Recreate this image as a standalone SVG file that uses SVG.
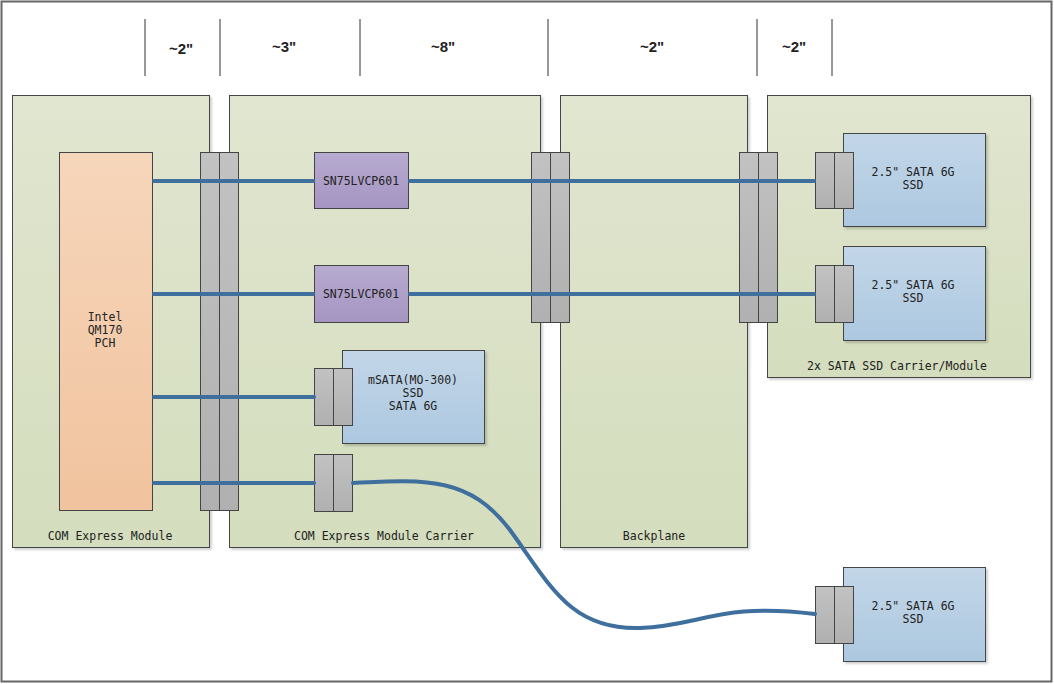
<svg xmlns="http://www.w3.org/2000/svg" width="1054" height="684" viewBox="0 0 1054 684">
<defs>
<linearGradient id="gPanel" x1="0" y1="0" x2="0" y2="1"><stop offset="0" stop-color="#e1e6d0"/><stop offset="1" stop-color="#d4ddbd"/></linearGradient>
<linearGradient id="gPch" x1="0" y1="0" x2="0" y2="1"><stop offset="0" stop-color="#f6d6bb"/><stop offset="1" stop-color="#f1c39e"/></linearGradient>
<linearGradient id="gChip" x1="0" y1="0" x2="0" y2="1"><stop offset="0" stop-color="#b8abd0"/><stop offset="1" stop-color="#a495c2"/></linearGradient>
<linearGradient id="gSsd" x1="0" y1="0" x2="0" y2="1"><stop offset="0" stop-color="#c3d6e8"/><stop offset="1" stop-color="#acc8e0"/></linearGradient>
<linearGradient id="gConn" x1="0" y1="0" x2="0" y2="1"><stop offset="0" stop-color="#c2c2c2"/><stop offset="1" stop-color="#b0b0b0"/></linearGradient>
<filter id="sh" x="-5%" y="-5%" width="115%" height="115%"><feDropShadow dx="2" dy="2" stdDeviation="1" flood-color="#000" flood-opacity="0.18"/></filter>
</defs>
<style>
.panel{fill:url(#gPanel);stroke:#444;stroke-width:1;filter:url(#sh)}
.pch{fill:url(#gPch);stroke:#444;stroke-width:1}
.chip{fill:url(#gChip);stroke:#444;stroke-width:1}
.ssd{fill:url(#gSsd);stroke:#444;stroke-width:1;filter:url(#sh)}
.conn{fill:url(#gConn);stroke:#444;stroke-width:1}
.t{font-family:"DejaVu Sans Mono","Liberation Mono",monospace;font-size:11.5px;fill:#222;text-anchor:middle}
.dim{font-family:"Liberation Sans",Arial,sans-serif;font-size:15px;font-weight:bold;fill:#222;text-anchor:middle}
.div{stroke:#333;stroke-width:1}
.wire{stroke:#3f6f9c;stroke-width:4;fill:none;stroke-linecap:round}
</style>
<rect x="0" y="0" width="1054" height="684" fill="#fff"/>
<rect x="1.5" y="1.5" width="1050" height="680" fill="none" stroke="#666" stroke-width="2"/>
<g id="dimensions">
<line class="div" x1="145" y1="19" x2="145" y2="76"/>
<line class="div" x1="220" y1="19" x2="220" y2="76"/>
<line class="div" x1="360" y1="19" x2="360" y2="76"/>
<line class="div" x1="548" y1="19" x2="548" y2="76"/>
<line class="div" x1="757" y1="19" x2="757" y2="76"/>
<line class="div" x1="832" y1="19" x2="832" y2="76"/>
<text class="dim" x="181" y="54">~2"</text>
<text class="dim" x="284" y="52">~3"</text>
<text class="dim" x="443" y="52">~8"</text>
<text class="dim" x="652" y="52">~2"</text>
<text class="dim" x="794" y="52">~2"</text>
</g>
<g id="com-express-module">
<rect class="panel" x="12.5" y="95.5" width="197" height="452"/>
<text class="t" x="110" y="540">COM Express Module</text>
</g>
<g id="carrier">
<rect class="panel" x="229.5" y="95.5" width="311" height="452"/>
<text class="t" x="384" y="540">COM Express Module Carrier</text>
</g>
<g id="backplane">
<rect class="panel" x="560.5" y="95.5" width="187" height="452"/>
<text class="t" x="654" y="540">Backplane</text>
</g>
<g id="ssd-carrier">
<rect class="panel" x="767.5" y="95.5" width="263" height="282"/>
<text class="t" x="897" y="370">2x SATA SSD Carrier/Module</text>
</g>
<g id="pch">
<rect class="pch" x="59.5" y="152.5" width="93" height="358"/>
<text class="t" x="105" y="321">Intel</text>
<text class="t" x="105" y="334">QM170</text>
<text class="t" x="105" y="347">PCH</text>
</g>
<g id="ssd1">
<rect class="ssd" x="843.5" y="133.5" width="142" height="93"/>
<text class="t" x="913" y="176">2.5" SATA 6G</text>
<text class="t" x="913" y="189">SSD</text>
</g>
<g id="ssd2">
<rect class="ssd" x="843.5" y="246.5" width="142" height="94"/>
<text class="t" x="913" y="289">2.5" SATA 6G</text>
<text class="t" x="913" y="302">SSD</text>
</g>
<g id="msata">
<rect class="ssd" x="342.5" y="350.5" width="142" height="93"/>
<text class="t" x="413" y="384">mSATA(MO-300)</text>
<text class="t" x="413" y="397">SSD</text>
<text class="t" x="413" y="410">SATA 6G</text>
</g>
<g id="ssd3">
<rect class="ssd" x="843.5" y="567.5" width="142" height="94"/>
<text class="t" x="913" y="610">2.5" SATA 6G</text>
<text class="t" x="913" y="623">SSD</text>
</g>
<g id="com-connector">
<rect class="conn" x="200.5" y="152.5" width="19" height="358"/>
<rect class="conn" x="219.5" y="152.5" width="19" height="358"/>
</g>
<g id="sn75-1">
<rect class="chip" x="314.5" y="152.5" width="94" height="56"/>
<text class="t" x="361" y="185">SN75LVCP601</text>
</g>
<g id="sn75-2">
<rect class="chip" x="314.5" y="265.5" width="94" height="57"/>
<text class="t" x="361" y="298">SN75LVCP601</text>
</g>
<g id="bp-connector-1">
<rect class="conn" x="531.5" y="152.5" width="19" height="170"/>
<rect class="conn" x="550.5" y="152.5" width="19" height="170"/>
</g>
<g id="bp-connector-2">
<rect class="conn" x="739.5" y="152.5" width="19" height="170"/>
<rect class="conn" x="758.5" y="152.5" width="19" height="170"/>
</g>
<g id="ssd1-connector">
<rect class="conn" x="815.5" y="152.5" width="19" height="56"/>
<rect class="conn" x="834.5" y="152.5" width="19" height="56"/>
</g>
<g id="ssd2-connector">
<rect class="conn" x="815.5" y="265.5" width="19" height="57"/>
<rect class="conn" x="834.5" y="265.5" width="19" height="57"/>
</g>
<g id="msata-connector">
<rect class="conn" x="314.5" y="368.5" width="19" height="57"/>
<rect class="conn" x="333.5" y="368.5" width="19" height="57"/>
</g>
<g id="cable-connector">
<rect class="conn" x="314.5" y="454.5" width="19" height="57"/>
<rect class="conn" x="333.5" y="454.5" width="19" height="57"/>
</g>
<g id="ssd3-connector">
<rect class="conn" x="815.5" y="586.5" width="19" height="57"/>
<rect class="conn" x="834.5" y="586.5" width="19" height="57"/>
</g>
<g id="connectors">
<path class="wire" d="M154,181 H313"/>
<path class="wire" d="M410,181 H814"/>
<path class="wire" d="M154,294 H313"/>
<path class="wire" d="M410,294 H814"/>
<path class="wire" d="M154,397 H314"/>
<path class="wire" d="M154,483 H314"/>
<path class="wire" d="M353,483 C430,479 470,478 510,530 C550,585 570,630 640,628 C700,626 720,602 815,614"/>
</g>
</svg>
